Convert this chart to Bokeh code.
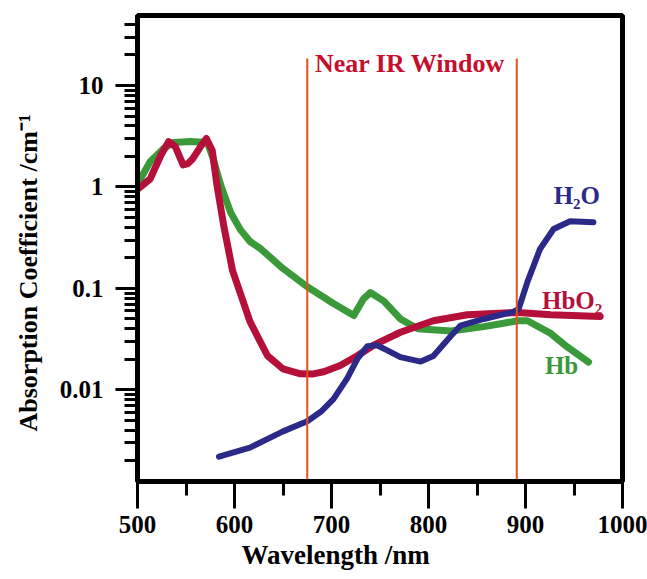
from bokeh.plotting import figure
from bokeh.models import FixedTicker, CustomJSTickFormatter, Title
from bokeh.core.properties import value
from bokeh.embed import file_html
from bokeh.resources import INLINE

# ---- data ----
hb_nm = [500, 503, 513, 527, 537, 555, 572, 578, 586, 596, 606, 616, 627, 650, 675,
         702, 723, 733, 740, 754, 771, 789, 823, 857, 892, 902, 926, 943, 965]
hb_val = [1.1, 1.2, 1.77, 2.4, 2.75, 2.8, 2.75, 1.9, 1.03, 0.56, 0.38, 0.29, 0.246, 0.157, 0.104,
          0.071, 0.054, 0.079, 0.091, 0.075, 0.05, 0.04, 0.038, 0.042, 0.048, 0.048, 0.036, 0.0265, 0.0188]

hbo2_nm = [500, 503, 513, 524, 532, 539, 547, 552, 557, 565, 571, 577, 582, 589, 598, 616,
           634, 650, 668, 680, 692, 709, 727, 743, 771, 805, 840, 892, 926, 977]
hbo2_val = [0.95, 1.0, 1.2, 2.04, 2.8, 2.5, 1.65, 1.7, 1.9, 2.5, 3.0, 2.3, 1.03, 0.41, 0.15, 0.047,
            0.0217, 0.0161, 0.0144, 0.0143, 0.0151, 0.0174, 0.0218, 0.0274, 0.037, 0.048, 0.055, 0.058, 0.055, 0.053]

h2o_nm = [584, 616, 650, 675, 690, 702, 716, 727, 737, 747, 758, 771, 792, 805, 823, 833,
          857, 888, 893, 902, 915, 929, 946, 970]
h2o_val = [0.0022, 0.0027, 0.0039, 0.0049, 0.0062, 0.0081, 0.0129, 0.0204, 0.027, 0.0275, 0.0244, 0.021,
           0.019, 0.0216, 0.034, 0.043, 0.05, 0.059, 0.063, 0.116, 0.245, 0.385, 0.46, 0.45]

window_nm = [675, 891]
window_top = 18.5
window_label = "Near IR Window"
window_label_pos = (781, 16.4)

curve_labels = ["H\u2082O", "HbO\u2082", "Hb"]
curve_label_x = [929, 917, 920]
curve_label_y = [0.82, 0.0757, 0.0173]

x_ticks = [500, 600, 700, 800, 900, 1000]
x_minor = [550, 650, 750, 850, 950]
y_ticks = [0.01, 0.1, 1, 10]
y_minor = [0.002, 0.003, 0.004, 0.005, 0.006, 0.007, 0.008, 0.009,
           0.02, 0.03, 0.04, 0.05, 0.06, 0.07, 0.08, 0.09,
           0.2, 0.3, 0.4, 0.5, 0.6, 0.7, 0.8, 0.9,
           2, 3, 4, 5, 6, 7, 8, 9, 20, 30, 40]

x_min, x_max = 500, 1000
y_min, y_max = 0.00125, 49

x_title = "Wavelength /nm"
y_title = "Absorption Coefficient /cm\u207b\u00b9"

GREEN = "#3a9a3a"
RED = "#b5103a"
NAVY = "#2b2a88"
ORANGE = "#e4501e"
LABEL_RED = "#c4102e"
FONT = "Liberation Serif"

p = figure(width=647, height=579, x_range=(x_min, x_max), y_range=(y_min, y_max),
           y_axis_type="log", output_backend="svg", toolbar_location=None,
           min_border_left=137, min_border_right=25, min_border_top=15, min_border_bottom=98)

p.xgrid.visible = False
p.ygrid.visible = False
p.outline_line_color = "black"
p.outline_line_width = 5
p.background_fill_color = "white"
p.border_fill_color = "white"

p.line(hb_nm, hb_val, line_width=7, color=GREEN, line_join="round", line_cap="round")
p.line(hbo2_nm, hbo2_val, line_width=7, color=RED, line_join="round", line_cap="round")
p.line(h2o_nm, h2o_val, line_width=6, color=NAVY, line_join="round", line_cap="round")

p.segment(x0=window_nm, y0=[y_min] * len(window_nm), x1=window_nm, y1=[window_top] * len(window_nm),
          line_width=2, color=ORANGE)

p.text(x=[window_label_pos[0]], y=[window_label_pos[1]], text=[window_label],
       text_font=value(FONT), text_font_style="bold", text_font_size="26px",
       text_color=LABEL_RED, text_align="center", text_baseline="alphabetic")

p.text(x=curve_label_x, y=curve_label_y, text=curve_labels,
       text_font=value(FONT), text_font_style="bold", text_font_size="25px",
       text_color=[NAVY, RED, GREEN], text_align="left", text_baseline="alphabetic")

# axes
xa = p.xaxis[0]
xa.ticker = FixedTicker(ticks=x_ticks, minor_ticks=x_minor)
ya = p.yaxis[0]
ya.ticker = FixedTicker(ticks=y_ticks, minor_ticks=y_minor)
ya.formatter = CustomJSTickFormatter(code="return tick.toString();")

for ax in (xa, ya):
    ax.axis_line_width = 5
    ax.axis_line_color = "black"
    ax.major_tick_line_width = 3
    ax.minor_tick_line_width = 3
    ax.major_tick_in = 0
    ax.minor_tick_in = 0
    ax.major_label_text_font = FONT
    ax.major_label_text_font_style = "bold"
    ax.major_label_text_font_size = "25px"
    ax.major_label_text_color = "black"

xa.major_tick_out = 27
xa.minor_tick_out = 14
xa.major_label_standoff = 7
ya.major_tick_out = 22
ya.minor_tick_out = 13
ya.major_label_standoff = 12

# axis titles as side titles (allow an off-centre position like the reference)
p.add_layout(Title(text=x_title, align="left", offset=104, standoff=5, vertical_align="bottom",
                   text_font=FONT, text_font_style="bold", text_font_size="27px",
                   text_color="black"), "below")
p.add_layout(Title(text=y_title, align="left", offset=50, standoff=24, vertical_align="top",
                   text_font=FONT, text_font_style="bold", text_font_size="26px",
                   text_color="black"), "left")

open("out.html", "w").write(file_html(p, INLINE))
